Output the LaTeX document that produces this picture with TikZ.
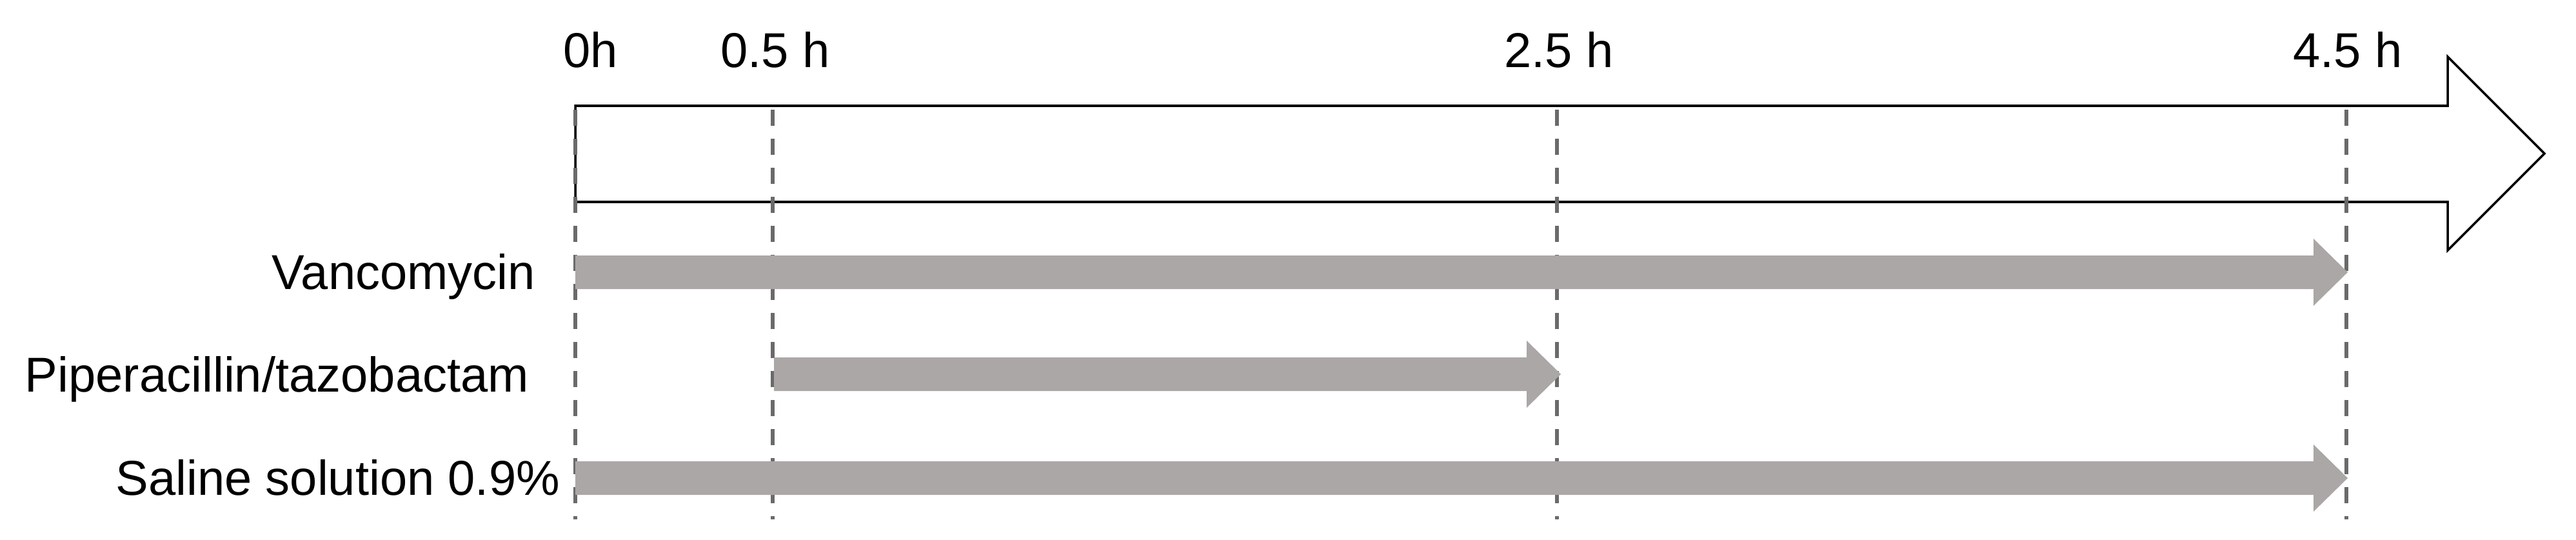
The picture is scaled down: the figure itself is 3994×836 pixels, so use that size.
\documentclass[tikz,border=0pt]{standalone}
\usepackage{fontspec}
\setmainfont{Liberation Sans}
\definecolor{bargray}{HTML}{ABA7A6}
\definecolor{dashgray}{HTML}{6A6A6A}
\newcommand\drugbar[4]{%
  \fill[barfill] (#1) ++(0,-26) coordinate (#4s)
    -- ({#2-53},{#3-26}) -- ({#2-53},{#3-52}) -- (#2,#3) coordinate (#4t)
    -- ({#2-53},{#3+52}) -- ({#2-53},{#3+26}) -- ($(#1)+(0,26)$) -- cycle;}
\usetikzlibrary{calc}
\begin{document}
\begin{tikzpicture}[x=0.01cm,y=-0.01cm,
  every node/.style={inner sep=0pt,outer sep=0pt,font=\fontsize{21.6}{26}\selectfont},
  ticklabel/.style={anchor=base},
  rowlabel/.style={anchor=base east},
  timeline/.style={draw=black,line width=1pt,fill=white,line join=miter},
  guide/.style={draw=dashgray,line width=1.5pt,dash pattern=on 0.25cm off 0.20cm},
  barfill/.style={fill=bargray}]
\useasboundingbox (0,0) rectangle (3994,836);
% tick positions
\coordinate (t0) at (892,170);
\coordinate (t05) at (1198,170);
\coordinate (t25) at (2414,170);
\coordinate (t45) at (3638,170);
\coordinate (b0) at (892,805);
\coordinate (b05) at (1198,805);
\coordinate (b25) at (2414,805);
\coordinate (b45) at (3638,805);
% big timeline arrow
\draw[timeline] (892,164) -- (3795,164) -- (3795,88) -- (3945,238)
  -- (3795,388) -- (3795,313) -- (892,313) -- cycle;
% dashed guides
\draw[guide] (t0) -- (b0);
\draw[guide] (t05) -- (b05);
\draw[guide] (t25) -- (b25);
\draw[guide] (t45) -- (b45);
% drug bars
\coordinate (v0) at (892,422);
\coordinate (p0) at (1200,580);
\coordinate (s0) at (892,741);
\drugbar{v0}{3640}{422}{v}
\drugbar{p0}{2420}{580}{p}
\drugbar{s0}{3640}{741}{s}
% tick labels
\node[anchor=base west] (l0) at (873,104) {0h};
\node[ticklabel] (l05) at (1202,104) {0.5 h};
\node[ticklabel] (l25) at (2417,104) {2.5 h};
\node[ticklabel] (l45) at (3640,104) {4.5 h};
% row labels
\node[rowlabel] (nv) at (830,448) {Vancomycin};
\node[rowlabel] (np) at (820,607) {Piperacillin/tazobactam};
\node[rowlabel] (ns) at (868,767) {Saline solution 0.9\%};
\end{tikzpicture}
\end{document}
